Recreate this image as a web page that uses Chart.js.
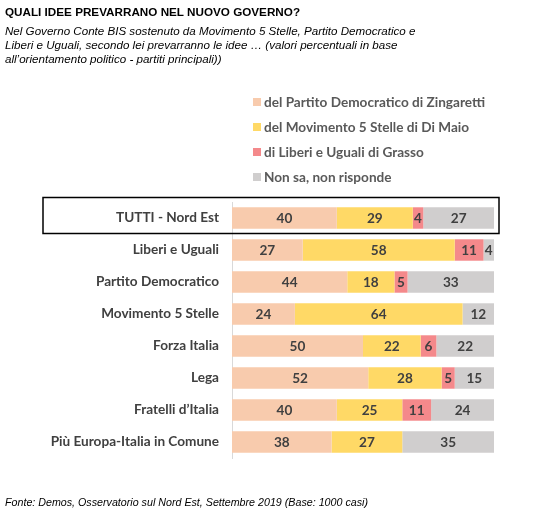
<!DOCTYPE html>
<html>
<head>
<meta charset="utf-8">
<script src="https://cdn.jsdelivr.net/npm/chart.js@4.4.1/dist/chart.umd.min.js"></script>
<style>
  body { margin: 0; background: #fff; }
  #wrap { position: relative; width: 538px; height: 516px; overflow: hidden; }
  #chart { position: absolute; left: 0; top: 0; }
  .title { position: absolute; left: 5px; top: 5px; font: bold 11.7px "Liberation Sans", Arial, sans-serif; color: #000; }
  .sub { position: absolute; left: 5px; top: 24px; font: italic 11.6px/14.2px "Liberation Sans", Arial, sans-serif; color: #000; white-space: nowrap; }
  .foot { position: absolute; left: 5px; top: 496px; font: italic 10.7px "Liberation Sans", Arial, sans-serif; color: #000; }
  #legend { position: absolute; left: 253px; top: 89px; font: bold 13.6px Lato, sans-serif; color: #595959; }
  #legend div { height: 25px; display: flex; align-items: center; }
  #legend span.sw { display: inline-block; width: 8px; height: 8px; margin-right: 3px; }
</style>
</head>
<body>
<div id="wrap">
  <canvas id="chart" width="538" height="516"></canvas>
  <div class="title">QUALI IDEE PREVARRANO NEL NUOVO GOVERNO?</div>
  <div class="sub">Nel Governo Conte BIS sostenuto da Movimento 5 Stelle, Partito Democratico e<br>Liberi e Uguali, secondo lei prevarranno le idee … (valori percentuali in base<br>all’orientamento politico - partiti principali))</div>
  <div id="legend"></div>
  <div class="foot">Fonte: Demos, Osservatorio sul Nord Est, Settembre 2019 (Base: 1000 casi)</div>
</div>
<script>
// Dati
const categories = ['TUTTI - Nord Est', 'Liberi e Uguali', 'Partito Democratico', 'Movimento 5 Stelle',
  'Forza Italia', 'Lega', 'Fratelli d’Italia', 'Più Europa-Italia in Comune'];
const seriesNames = ['del Partito Democratico di Zingaretti', 'del Movimento 5 Stelle di Di Maio',
  'di Liberi e Uguali di Grasso', 'Non sa, non risponde'];
const pdValues = [40, 27, 44, 24, 50, 52, 40, 38];
const m5sValues = [29, 58, 18, 64, 22, 28, 25, 27];
const leuValues = [4, 11, 5, 0, 6, 5, 11, 0];
const nonSaValues = [27, 4, 33, 12, 22, 15, 24, 35];
const colors = ['#F8CBAD', '#FFD966', '#F4898B', '#D0CECE'];

const allValues = [pdValues, m5sValues, leuValues, nonSaValues];

// legenda html
const legend = document.getElementById('legend');
seriesNames.forEach((name, i) => {
  const row = document.createElement('div');
  row.innerHTML = '<span class="sw" style="background:' + colors[i] + '"></span>' + name;
  legend.appendChild(row);
});

// etichette dei valori dentro i segmenti
const valueLabels = {
  id: 'valueLabels',
  afterDatasetsDraw(chart) {
    const ctx = chart.ctx;
    ctx.save();
    ctx.font = 'bold 13.6px Lato, sans-serif';
    ctx.fillStyle = '#404040';
    ctx.textAlign = 'center';
    ctx.textBaseline = 'middle';
    chart.data.datasets.forEach((ds, di) => {
      chart.getDatasetMeta(di).data.forEach((bar, i) => {
        const v = ds.data[i];
        if (!v) return;
        const x = (bar.x + bar.base) / 2;
        ctx.fillText(v, x, bar.y + 1);
      });
    });
    ctx.restore();
  }
};

// riquadro attorno a "TUTTI"
const boxFirst = {
  id: 'boxFirst',
  afterDraw(chart) {
    const y = chart.scales.y.getPixelForValue(0);
    const ctx = chart.ctx;
    ctx.save();
    ctx.strokeStyle = '#000';
    ctx.lineWidth = 1.5;
    ctx.strokeRect(43, y - 20.5, 456, 36);
    ctx.restore();
  }
};

new Chart(document.getElementById('chart'), {
  type: 'bar',
  data: {
    labels: categories,
    datasets: allValues.map((vals, i) => ({
      label: seriesNames[i],
      data: vals,
      backgroundColor: colors[i],
      barPercentage: 0.67,
      categoryPercentage: 1
    }))
  },
  options: {
    indexAxis: 'y',
    responsive: false,
    animation: false,
    layout: { padding: { top: 202, bottom: 516 - 458, left: 0, right: 538 - 494 } },
    plugins: { legend: { display: false }, tooltip: { enabled: false } },
    scales: {
      x: {
        stacked: true, min: 0, max: 100,
        display: false
      },
      y: {
        stacked: true,
        grid: { display: false, drawTicks: false },
        border: { color: '#D9D9D9', width: 1 },
        ticks: { color: '#404040', font: { family: 'Lato', size: 13.6, weight: 'bold' }, padding: 13 },
        afterFit(scale) { scale.width = 232; }
      }
    }
  },
  plugins: [valueLabels, boxFirst]
});
</script>
</body>
</html>
